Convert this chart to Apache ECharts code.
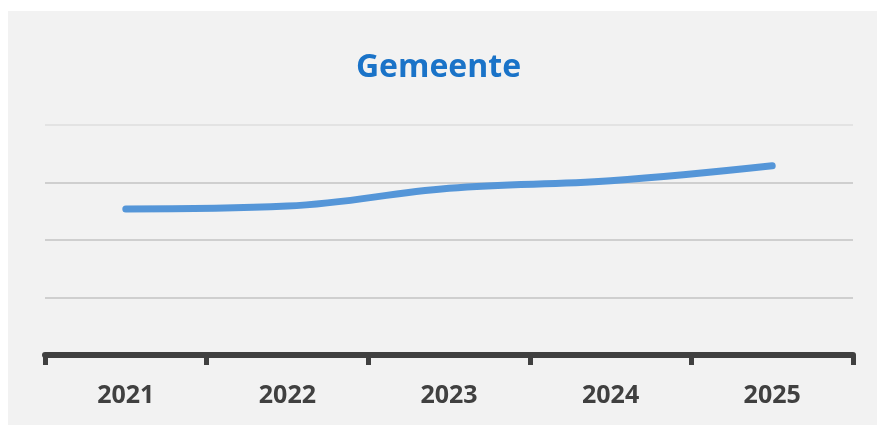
<!DOCTYPE html>
<html>
<head>
<meta charset="utf-8">
<script src="https://cdn.jsdelivr.net/npm/echarts@6/dist/echarts.min.js"></script>
<style>
html,body{margin:0;padding:0;background:#fff;}
#wrap{position:absolute;left:8px;top:11px;width:869px;height:414px;background:#f2f2f2;}
#chart{position:absolute;left:0;top:0;width:877px;height:425px;}
</style>
</head>
<body>
<div id="wrap"></div>
<div id="chart"></div>
<script>
const categories = ['2021', '2022', '2023', '2024', '2025'];
const values = [2.54, 2.59, 2.90, 3.03, 3.29];
const title = 'Gemeente';

const chart = echarts.init(document.getElementById('chart'), null, {renderer: 'canvas'});
chart.setOption({
  backgroundColor: 'transparent',
  animation: false,
  title: {
    text: title,
    left: 'center',
    top: 47,
    textStyle: {fontFamily: 'Open Sans', fontWeight: 'bold', fontSize: 32, color: '#1a73c8'}
  },
  grid: {left: 45, right: 24, top: 125, bottom: 70},
  xAxis: {
    type: 'category',
    data: categories,
    boundaryGap: true,
    axisLine: {lineStyle: {color: '#404040', width: 6}},
    axisTick: {show: true, length: 10, lineStyle: {color: '#404040', width: 5}},
    axisLabel: {margin: 28, fontFamily: 'Open Sans', fontWeight: 'bold', fontSize: 25, color: '#404040'}
  },
  yAxis: {
    type: 'value',
    min: 0, max: 4, interval: 1,
    axisLabel: {show: false},
    axisLine: {show: false},
    axisTick: {show: false},
    splitLine: {lineStyle: {color: ['#cfcfcf', '#cfcfcf', '#cfcfcf', '#cfcfcf', '#e3e3e3'], width: 2}}
  },
  series: [{
    type: 'line',
    data: values,
    smooth: 0.4,
    symbol: 'none',
    lineStyle: {color: '#5596d8', width: 7, cap: 'round', join: 'round'}
  }]
});
</script>
</body>
</html>
